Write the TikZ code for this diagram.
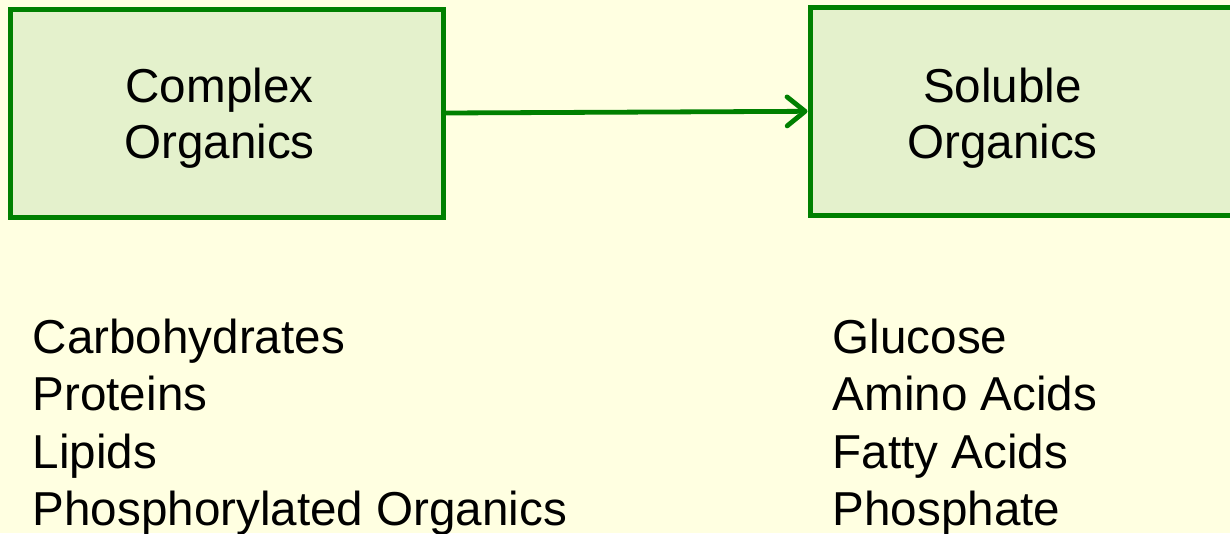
\documentclass[tikz,border=0pt]{standalone}
\usepackage{fontspec}
\setmainfont{Liberation Sans}
\usetikzlibrary{arrows.meta}
\definecolor{bgyellow}{HTML}{FFFFE1}
\definecolor{boxgreen}{HTML}{008000}
\definecolor{boxfill}{HTML}{E4F1CC}
\tikzset{
  greenbox/.style={draw=boxgreen, fill=boxfill, line width=5pt, rectangle, inner sep=0pt},
  boxtext/.style={align=center, inner sep=0pt, font=\fontsize{47.6}{56}\selectfont},
  listtext/.style={align=left, inner sep=0pt, font=\fontsize{47.6}{57.5}\selectfont},
  flowarrow/.style={draw=boxgreen, line width=4.8pt, -{Straight Barb[length=18pt,width=29pt,line cap=round,line join=round]}}
}
\begin{document}
\begin{tikzpicture}[x=1pt,y=-1pt]
\useasboundingbox (0,0) rectangle (1230,533);
\fill[bgyellow] (0,0) rectangle (1230,533);
\clip (0,0) rectangle (1230,533);
\node[greenbox, minimum width=433pt, minimum height=208pt] (complex) at (226.5,113) {};
\node[greenbox, minimum width=433pt, minimum height=207.5pt] (soluble) at (1026.5,111.3) {};
\node[boxtext, anchor=base] (complextext) at (219.5,158) {Complex\\Organics};
\node[boxtext, anchor=base] (solubletext) at (1002.5,158) {Soluble\\Organics};
\draw[flowarrow] (complex.east) -- (soluble.west);
\node[listtext, anchor=base west] (leftlist) at (32.5,525.5) {Carbohydrates\\Proteins\\Lipids\\Phosphorylated Organics};
\node[listtext, anchor=base west] (rightlist) at (832.5,525.5) {Glucose\\Amino Acids\\Fatty Acids\\Phosphate};
\end{tikzpicture}
\end{document}
